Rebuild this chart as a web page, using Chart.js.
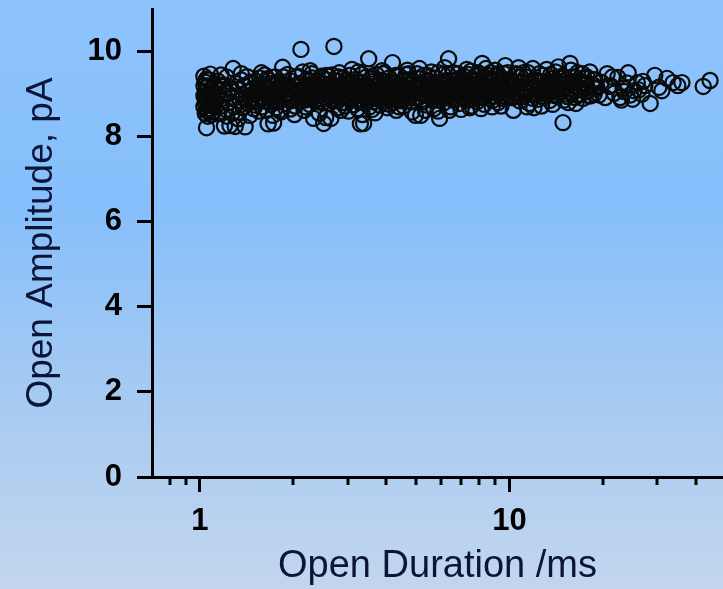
<!DOCTYPE html>
<html>
<head>
<meta charset="utf-8">
<script src="https://cdn.jsdelivr.net/npm/chart.js@4.4.1/dist/chart.umd.min.js"></script>
<style>
  html, body { margin: 0; padding: 0; overflow: hidden; }
  body {
    width: 723px; height: 589px;
    background: linear-gradient(to bottom, #8ec4fe 0%, #86bffb 35%, #a9cbf1 70%, #c2d6ee 100%);
  }
  canvas { display: block; }
</style>
</head>
<body>
<canvas id="chart" width="723" height="589"></canvas>
<script>
// open durations (ms), grouped by duration range
const openDuration = [
  // 1.0 - 1.15
  1.03,1.04,1.05,1.04,1.03,1.05,1.04,1.03,1.05,1.04,
  1.06,1.05,1.07,1.08,1.07,1.09,1.08,1.06,1.07,1.09,
  1.10,1.10,1.08,1.06,1.09,1.11,1.12,1.11,1.12,1.13,
  1.04,1.06,1.03,1.08,1.05,
  // 1.15 - 1.5
  1.14,1.15,1.16,1.17,1.15,1.18,1.19,1.20,1.21,1.22,
  1.23,1.24,1.25,1.26,1.27,1.28,1.29,1.30,1.31,1.32,
  1.33,1.34,1.35,1.36,1.37,1.38,1.39,1.40,1.41,1.42,
  1.43,1.44,1.45,1.46,1.47,1.48,1.49,1.17,1.22,1.33,
  1.19,1.27,1.36,1.44,1.25,1.38,
  // 1.5 - 2.5
  1.50,1.51,1.52,1.53,1.54,1.55,1.56,1.57,1.58,1.59,
  1.60,1.61,1.62,1.63,1.64,1.65,1.66,1.67,1.68,1.69,
  1.70,1.71,1.73,1.74,1.75,1.76,1.78,1.79,1.80,1.82,
  1.83,1.85,1.86,1.87,1.89,1.90,1.92,1.93,1.95,1.96,
  1.98,2.00,2.01,2.03,2.05,2.06,2.08,2.10,2.12,2.13,
  2.15,2.17,2.18,2.20,2.22,2.24,2.26,2.28,2.30,2.33,
  2.35,2.37,2.39,2.41,2.43,2.45,2.47,2.49,1.58,1.72,
  1.81,1.94,2.02,2.19,2.27,2.38,1.63,1.77,1.91,2.09,
  2.23,2.44,
  // 2.5 - 5
  2.51,2.52,2.54,2.55,2.57,2.59,2.61,2.63,2.65,2.67,
  2.69,2.71,2.72,2.74,2.76,2.78,2.80,2.82,2.84,2.86,
  2.88,2.90,2.92,2.94,2.96,2.98,3.00,3.02,3.05,3.07,
  3.09,3.12,3.14,3.16,3.18,3.21,3.23,3.25,3.28,3.30,
  3.32,3.34,3.37,3.38,3.40,3.42,3.45,3.47,3.49,3.51,
  3.53,3.56,3.58,3.61,3.63,3.66,3.68,3.71,3.73,3.76,
  3.79,3.81,3.84,3.86,3.89,3.92,3.95,3.97,4.00,4.03,
  4.06,4.09,4.12,4.15,4.19,4.22,4.25,4.28,4.31,4.35,
  4.38,4.41,4.45,4.48,4.52,4.55,4.59,4.62,4.66,4.70,
  4.73,4.77,4.81,4.85,4.89,4.93,4.97,2.60,2.85,3.10,
  3.35,3.60,3.88,4.10,4.40,4.68,2.75,3.03,3.26,3.52,
  3.77,4.02,4.27,4.57,4.80,2.95,3.20,3.46,3.70,3.98,
  4.20,4.50,4.75,
  // 5 - 10
  5.01,5.05,5.10,5.14,5.17,5.20,5.25,5.29,5.33,5.38,
  5.42,5.47,5.51,5.56,5.60,5.65,5.70,5.74,5.79,5.84,
  5.90,5.95,6.00,6.05,6.10,6.15,6.21,6.26,6.31,6.36,
  6.42,6.47,6.53,6.59,6.64,6.70,6.76,6.82,6.88,6.94,
  7.00,7.06,7.12,7.19,7.25,7.32,7.38,7.45,7.51,7.58,
  7.65,7.72,7.79,7.86,7.93,8.00,8.07,8.14,8.17,8.22,
  8.30,8.37,8.45,8.53,8.61,8.69,8.77,8.85,8.93,9.01,
  9.10,9.18,9.27,9.35,9.44,9.53,9.62,9.70,9.80,9.90,
  5.35,5.88,6.40,6.98,7.55,8.10,8.80,9.40,5.12,5.68,
  6.18,6.72,7.28,7.83,8.40,9.00,9.60,5.45,5.98,6.50,
  7.02,7.62,8.19,8.73,9.22,9.76,
  // 10 - 20
  10.0,10.1,10.2,10.3,10.4,10.5,10.6,10.8,10.9,11.0,
  11.2,11.3,11.5,11.6,11.8,11.9,12.1,12.2,12.4,12.6,
  12.8,12.9,13.1,13.3,13.5,13.7,13.9,14.1,14.3,14.5,
  14.7,14.9,15.1,15.3,15.5,15.7,15.9,16.1,16.3,16.6,
  16.8,17.0,17.3,17.5,17.8,18.0,18.3,18.6,18.9,19.2,
  19.5,19.8,10.7,11.4,12.0,12.7,13.2,13.8,14.4,15.0,
  15.8,16.4,17.2,18.2,10.2,11.1,12.3,13.0,14.0,15.2,
  16.0,16.9,17.7,18.8,
  // > 20
  20.4,20.7,21.2,21.8,22.4,22.8,23.3,24.0,24.6,25.3,
  25.9,26.8,27.4,28.5,29.5,30.4,31.1,32.3,33.8,35.0,
  36.1,42.3,44.5,21.5,23.0,25.0,26.2,27.0,24.2,
  // dense core of the band
  1.52,1.57,1.62,1.68,1.73,1.79,1.84,1.90,1.97,2.04,
  2.11,2.16,2.21,2.25,2.29,2.34,2.40,2.46,2.53,2.58,
  2.64,2.70,2.77,2.83,2.89,2.97,3.04,3.11,3.17,3.24,
  3.31,3.39,3.44,3.50,3.57,3.64,3.72,3.80,3.87,3.94,
  4.01,4.08,4.16,4.24,4.33,4.42,4.51,4.61,4.71,4.83,
  4.95,5.07,5.19,5.31,5.43,5.54,5.66,5.78,5.92,6.03,
  6.16,6.29,6.44,6.57,6.68,6.80,6.92,7.05,7.17,7.30,
  7.42,7.55,7.68,7.82,7.95,8.08,8.24,8.39,8.55,8.71,
  8.87,9.05,9.20,9.38,9.55,9.73,9.92,10.1,10.3,10.5,
  10.7,10.9,11.1,11.4,11.7,12.0,12.3,12.6,12.9,13.2,
  13.5,13.9,14.2,14.6,15.0,15.4,15.8,16.2,16.7,17.1,
  1.55,1.65,1.75,1.86,1.96,2.07,2.18,2.31,2.42,2.56,
  2.68,2.81,2.93,3.06,3.19,3.33,3.48,3.62,3.78,3.93,
  4.11,4.29,4.47,4.64,4.84,5.03,5.24,5.44,5.66,5.89,
  6.11,6.34,6.58,6.83,7.09,7.36,7.63,7.92,8.21,8.52,
  8.84,9.17,9.52,9.87,10.2,10.6,11.0,11.5,11.9,12.5,
  13.0,13.6,14.1,14.8,15.4,16.0,16.6,17.4,18.1,18.7,
  1.60,1.71,1.83,1.99,2.14,2.36,2.62,2.91,3.22,3.55,
  3.91,4.30,4.72,5.18,5.70,6.25,6.86,7.52,8.26,9.08,
  9.96,10.9,12.0,13.1,14.4,15.9,17.5,19.0,21.0,23.5
];

// open amplitudes (pA), same order as openDuration
const openAmplitude = [
  9.42,9.28,9.15,9.05,8.96,8.88,8.79,8.70,8.62,8.55,
  8.48,8.21,9.33,9.02,8.91,8.84,8.66,9.19,8.74,9.10,
  8.95,8.58,9.47,8.99,8.52,9.22,8.81,9.05,8.69,8.93,
  8.90,8.60,9.20,8.78,9.35,

  9.31,9.08,8.87,8.72,8.55,9.18,8.98,8.25,8.64,9.40,
  9.02,8.80,8.26,9.15,8.91,9.60,8.70,8.24,9.25,8.96,
  9.10,8.58,8.85,9.33,9.00,8.68,9.20,8.23,8.92,9.41,
  8.78,9.06,8.50,9.28,8.88,9.12,8.66,9.45,8.48,8.42,
  9.22,8.55,9.48,8.95,9.10,8.92,

  9.02,8.74,9.30,8.88,9.16,8.60,9.38,8.95,9.08,8.70,
  9.24,8.84,9.45,8.99,8.62,9.12,8.30,9.33,8.90,9.05,
  8.76,9.20,8.32,8.97,9.40,8.68,9.14,8.86,9.28,9.01,
  8.58,9.63,8.93,9.22,8.78,9.10,9.46,8.88,9.03,8.65,
  9.30,8.95,9.18,8.72,9.40,9.06,8.84,9.25,10.05,8.98,
  9.52,8.62,9.14,8.90,9.35,9.02,8.76,9.20,9.48,8.43,
  9.08,8.86,9.30,8.96,8.55,9.16,9.42,8.80,9.50,8.50,
  8.62,9.20,8.52,8.70,9.55,9.12,9.18,9.05,8.95,9.02,
  8.88,9.25,

  8.31,9.10,8.92,8.45,9.33,9.01,8.78,9.22,8.43,9.45,
  8.96,10.12,9.14,8.84,9.30,9.04,8.68,9.50,8.93,9.18,
  8.80,9.38,9.06,8.72,9.26,8.98,9.12,8.60,9.44,8.88,
  9.20,9.02,8.75,9.34,8.95,9.15,8.66,9.52,9.05,8.30,
  8.86,9.28,9.00,8.31,9.18,8.78,9.40,8.94,9.10,9.83,
  8.70,9.24,8.98,9.36,8.82,9.08,8.56,9.46,9.02,8.90,
  9.20,8.74,9.32,9.06,8.86,9.14,9.50,8.96,9.24,8.68,
  9.10,9.38,8.92,9.02,9.74,8.80,9.28,9.06,8.62,9.16,
  8.98,9.42,8.88,9.12,9.00,8.72,9.34,9.08,8.84,9.22,
  9.48,8.94,9.14,8.58,9.30,9.02,8.50,9.42,8.62,9.58,
  8.52,8.64,9.55,8.76,8.70,9.56,9.12,8.96,9.10,9.05,
  9.10,9.00,9.20,9.18,9.05,9.15,8.86,8.90,9.18,9.30,
  9.12,8.92,9.34,

  9.12,8.90,9.36,9.04,8.50,9.22,8.82,9.44,9.00,9.16,
  8.74,9.30,9.08,8.92,9.52,9.18,8.66,9.02,9.38,8.86,
  9.12,8.43,9.26,8.98,9.46,8.80,9.10,9.32,8.94,9.83,
  9.04,8.70,9.22,9.50,8.88,9.14,9.00,9.36,8.78,9.20,
  9.06,8.92,9.42,9.16,8.84,9.28,9.02,8.68,9.54,9.10,
  8.96,9.34,9.20,8.82,9.06,9.46,8.94,9.24,9.72,9.12,
  8.76,9.38,9.00,9.18,8.90,9.50,9.30,8.86,9.08,9.42,
  9.14,8.80,9.26,9.04,8.96,9.36,9.18,9.67,8.92,9.22,
  8.62,8.60,8.62,8.64,8.72,8.66,8.70,8.72,9.60,9.28,
  9.62,9.30,9.58,9.44,9.60,9.56,9.48,9.06,9.02,8.98,
  9.26,9.02,9.00,9.10,9.00,9.10,

  9.08,9.34,8.92,8.62,9.20,9.48,9.02,8.84,9.26,9.12,
  8.96,9.40,9.06,8.78,9.22,9.60,9.00,9.32,8.88,9.14,
  9.44,8.94,9.20,9.04,8.85,9.36,9.10,9.52,8.98,9.24,
  9.06,8.33,9.40,9.16,8.80,9.72,9.02,9.30,8.92,9.50,
  9.14,9.00,8.90,9.26,9.40,9.08,8.96,9.22,9.34,9.15,
  8.98,9.28,9.62,8.70,8.68,8.72,9.58,8.76,9.64,8.86,
  9.56,8.78,9.48,9.52,9.16,9.50,9.10,9.02,9.30,9.00,
  9.12,9.24,9.06,9.00,

  8.92,9.48,9.20,9.02,9.39,8.92,9.14,9.26,8.98,9.08,
  9.27,9.00,9.20,8.78,9.44,9.16,9.08,9.37,9.27,9.20,
  9.27,9.18,9.32,9.40,8.86,8.88,9.10,9.30,9.50,

  9.06,8.92,9.18,9.00,9.26,8.94,9.12,9.04,8.98,9.20,
  9.10,8.96,9.04,9.30,8.92,9.18,9.02,9.08,9.24,8.98,
  9.12,8.90,9.00,9.20,9.06,9.34,8.94,9.14,9.02,9.28,
  9.08,8.96,9.22,9.00,9.12,9.30,8.92,9.04,9.18,8.98,
  9.16,9.04,9.26,8.94,9.08,9.20,9.12,8.96,9.30,9.10,
  9.02,9.24,9.14,8.98,9.32,9.06,9.18,9.26,9.00,9.12,
  9.22,9.04,9.14,9.30,9.02,9.20,9.10,9.36,8.98,9.16,
  9.26,9.00,9.18,9.30,9.12,9.22,9.06,9.28,9.14,9.34,
  9.20,9.06,9.36,9.12,9.24,9.02,9.30,9.22,9.04,9.28,
  9.16,9.40,9.08,9.26,9.12,9.34,9.20,9.04,9.30,9.14,
  9.24,9.06,9.18,9.38,9.12,9.26,9.04,9.20,9.32,9.10,
  8.82,9.36,8.80,9.40,8.84,9.42,8.86,9.38,8.82,9.44,
  8.84,9.40,8.80,9.44,8.86,9.46,8.84,9.42,8.88,9.48,
  8.86,9.44,8.84,9.46,8.82,9.48,8.88,9.44,8.86,9.50,
  8.90,9.46,8.86,9.48,8.90,9.46,8.88,9.50,8.92,9.44,
  8.94,9.48,8.90,9.50,8.92,9.46,8.94,9.50,8.90,9.48,
  8.92,9.46,8.96,9.42,8.94,9.40,8.98,9.38,8.96,9.34,
  9.14,8.98,9.22,8.90,9.12,9.00,9.16,9.04,9.20,9.08,
  8.94,9.16,9.00,9.22,8.96,9.24,9.00,9.18,9.02,9.14,
  9.26,9.00,9.18,9.10,9.26,9.00,9.20,9.12,9.18,9.06
];

const xMajorTicks = [1, 10];
const xMinorTicks = [0.8, 0.9, 2, 3, 4, 5, 6, 7, 8, 9, 20, 30, 40];
const yTicks = [0, 2, 4, 6, 8, 10];

const points = openDuration.map((d, i) => ({ x: d, y: openAmplitude[i] }));

// short minor ticks under the log axis
const minorTickPlugin = {
    id: 'minorTicks',
    afterDraw(chart) {
        const xs = chart.scales.x;
        const ctx = chart.ctx;
        ctx.save();
        ctx.strokeStyle = '#000';
        ctx.lineWidth = 3;
        xMinorTicks.forEach(v => {
            const px = Math.round(xs.getPixelForValue(v));
            ctx.beginPath();
            ctx.moveTo(px, xs.top);
            ctx.lineTo(px, xs.top + 8);
            ctx.stroke();
        });
        ctx.restore();
    }
};

Chart.defaults.font.family = "'Liberation Sans', Arial, sans-serif";

new Chart(document.getElementById('chart'), {
    type: 'scatter',
    data: {
        datasets: [{
            data: points,
            pointStyle: 'circle',
            pointRadius: 7.6,
            pointBorderWidth: 2.2,
            pointBorderColor: '#0a0a0a',
            pointBackgroundColor: 'rgba(0,0,0,0)',
            clip: false
        }]
    },
    options: {
        responsive: false,
        animation: false,
        layout: { autoPadding: false, padding: { top: 9, right: 0, left: 0, bottom: 0 } },
        plugins: { legend: { display: false }, tooltip: { enabled: false } },
        scales: {
            x: {
                type: 'logarithmic',
                min: 0.7,
                max: 49,
                afterBuildTicks: s => { s.ticks = xMajorTicks.map(v => ({ value: v })); },
                afterFit: s => { s.height = 112; s.paddingLeft = 0; s.paddingRight = 0; },
                border: { display: true, color: '#000', width: 3 },
                grid: { drawOnChartArea: false, drawTicks: true, tickLength: 15, tickWidth: 3, tickColor: '#000' },
                ticks: {
                    autoSkip: false,
                    maxRotation: 0,
                    padding: 11,
                    color: '#000',
                    font: { size: 31, weight: 'bold' },
                    callback: v => String(v)
                },
                title: {
                    display: true,
                    text: 'Open Duration /ms',
                    color: '#0b1538',
                    font: { size: 38 },
                    padding: { top: 0, bottom: 0 }
                }
            },
            y: {
                min: 0,
                max: 11,
                afterBuildTicks: s => { s.ticks = yTicks.map(v => ({ value: v })); },
                afterFit: s => { s.width = 152; s.paddingTop = 0; s.paddingBottom = 0; },
                border: { display: true, color: '#000', width: 3 },
                grid: { drawOnChartArea: false, drawTicks: true, tickLength: 15, tickWidth: 3, tickColor: '#000' },
                ticks: {
                    padding: 15,
                    color: '#000',
                    font: { size: 31, weight: 'bold' }
                },
                title: {
                    display: true,
                    text: 'Open Amplitude, pA',
                    color: '#0b1538',
                    font: { size: 37 },
                    padding: { top: 20, bottom: 0 }
                }
            }
        }
    },
    plugins: [minorTickPlugin]
});
</script>
</body>
</html>
